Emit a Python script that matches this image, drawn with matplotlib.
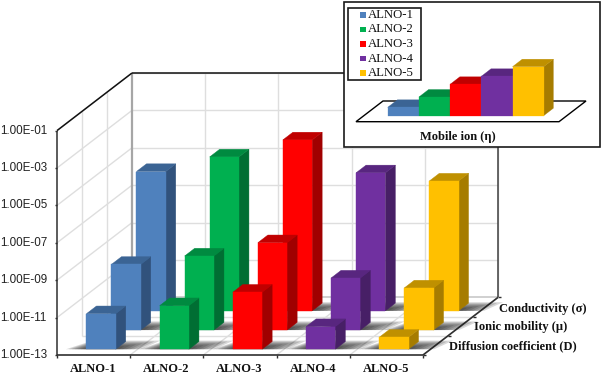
import matplotlib
matplotlib.use('Agg')
import matplotlib.pyplot as plt
from matplotlib.patches import Polygon, Rectangle

samples = ['ALNO-1', 'ALNO-2', 'ALNO-3', 'ALNO-4', 'ALNO-5']
depth_labels = ['Diffusion coefficient (D)', 'Ionic mobility (\u00b5)', 'Conductivity (\u03c3)']
tick_labels = ['1.00E-13', '1.00E-11', '1.00E-09', '1.00E-07', '1.00E-05', '1.00E-03', '1.00E-01']
tick_exps = [-13, -11, -9, -7, -5, -3, -1]

# log10 of each quantity
diffusion = [-11.1, -10.67, -9.95, -11.79, -12.36]
mobility = [-9.49, -9.04, -8.33, -10.22, -10.75]
conductivity = [-5.55, -4.77, -3.86, -5.62, -6.06]
mobile_ion = [8.4, 18.7, 31.4, 39.4, 49.0]

front = ['#4f81bd', '#00b050', '#ff0000', '#7030a0', '#ffc000']
top = ['#3b6494', '#008a40', '#c00000', '#58267f', '#bf9000']
side = ['#31527c', '#006e33', '#a00000', '#471f66', '#a67c00']

fig = plt.figure(figsize=(6.02, 3.75), dpi=100)
ax = fig.add_axes([0, 0, 1, 1])
ax.set_xlim(0, 602)
ax.set_ylim(375, 0)
ax.axis('off')

SERIF = 'Liberation Serif'
SANS = 'Liberation Sans'


def proj(cat, depth, val):
    # oblique projection of (category, depth slot, log10 value) to pixels
    return (57 + 73.2 * cat + 25.0 * depth, 355 - 18.7 * (val + 13) - 19.2 * depth)


def line(a, b, color, lw, z=2):
    ax.plot([a[0], b[0]], [a[1], b[1]], color=color, lw=lw, zorder=z, solid_capstyle='butt')


# grid on the walls and floor
grid = '#dedede'
for e in tick_exps[1:]:
    line(proj(0, 0, e), proj(0, 3, e), grid, 1.0)
    line(proj(0, 3, e), proj(5, 3, e), grid, 1.0)
for c in range(1, 6):
    line(proj(c, 3, -13), proj(c, 3, -1), grid, 1.0)
    line(proj(c, 0, -13), proj(c, 3, -13), grid, 1.0)
for d in [1, 2]:
    line(proj(0, d, -13), proj(0, d, -1), grid, 1.0)
    line(proj(0, d, -13), proj(5, d, -13), grid, 1.0)
line(proj(0, 3, -13), proj(5, 3, -13), '#c8c8c8', 1.2)

# frame
line(proj(0, 3, -13), proj(0, 3, -1), '#a6a6a6', 1.6)
line(proj(0, 0, -1), proj(0, 3, -1), '#111111', 1.1)
line(proj(0, 3, -1), proj(5, 3, -1), '#111111', 1.1)
line(proj(5, 3, -13), proj(5, 3, -1), '#404040', 1.1)
line(proj(0, 0, -13), proj(0, 0, -1), '#404040', 1.2)
line(proj(0, 0, -13), proj(5, 0, -13), '#303030', 1.2)
line(proj(5, 0, -13), proj(5, 3, -13), '#303030', 1.2)

# ticks and tick labels
for e, lab in zip(tick_exps, tick_labels):
    p = proj(0, 0, e)
    line((p[0] - 2.5, p[1]), p, '#303030', 1.0)
    ax.text(p[0] - 10, p[1], lab, family=SANS, fontsize=8.4, color='#222222',
            ha='right', va='center')
for c in range(6):
    p = proj(c, 0, -13)
    line(p, (p[0], p[1] + 2.5), '#303030', 1.0)
for c, lab in enumerate(samples):
    p = proj(c + 0.5, 0, -13)
    ax.text(p[0] - 0.5, 369.5, lab, family=SERIF, fontsize=9, fontweight='bold',
            color='#111111', ha='center', va='center')
for d in range(4):
    p = proj(5, d, -13)
    line(p, (p[0] + 2.5, p[1]), '#303030', 1.0)
label_pos = [(449, 346), (473.5, 327), (499, 309)]
for lab, (x, y) in zip(depth_labels, label_pos):
    ax.text(x, y, lab, family=SERIF, fontsize=9, fontweight='bold',
            color='#111111', ha='left', va='center')


def poly(pts, color, z, alpha=1.0, lw=0.0):
    ax.add_patch(Polygon(pts, closed=True, facecolor=color, edgecolor=color,
                         lw=lw, alpha=alpha, zorder=z))


def bar3d(cat, row, val, i, z):
    c0, c1 = cat + 0.3, cat + 0.7
    d0, d1 = row + 0.3, row + 0.7
    # soft shadow on the floor
    for k in range(7):
        grow = 0.05 * (7 - k)
        poly([proj(c0 - grow * 0.8, d0, -13), proj(c1 + grow, d0, -13),
              proj(c1 + grow * 1.3, d0 + 0.1 + 0.05 * (7 - k), -13),
              proj(c0 - grow * 0.2, d0 + 0.1 + 0.05 * (7 - k), -13)],
             '#1a1a1a', z, alpha=0.17)
    poly([proj(c1, d0, -13), proj(c1, d1, -13), proj(c1, d1, val), proj(c1, d0, val)],
         side[i], z + 0.1, lw=0.3)
    poly([proj(c0, d0, val), proj(c1, d0, val), proj(c1, d1, val), proj(c0, d1, val)],
         top[i], z + 0.2, lw=0.3)
    poly([proj(c0, d0, -13), proj(c1, d0, -13), proj(c1, d0, val), proj(c0, d0, val)],
         front[i], z + 0.3, lw=0.3)


z = 3
for row, series in [(2, conductivity), (1, mobility), (0, diffusion)]:
    for i, val in enumerate(series):
        bar3d(i, row, val, i, z)
        z += 1

# inset with the mobile ion bars
ZI = 100
ax.add_patch(Rectangle((343.5, 2), 256, 144.5, facecolor='white', edgecolor='#1a1a1a',
                       lw=1.2, zorder=ZI))
ax.add_patch(Polygon([(356, 121.7), (559, 121.7), (586, 101), (383, 101)], closed=True,
                     facecolor='white', edgecolor='black', lw=1.0, zorder=ZI + 1))
bar_x = 387.7
bar_w = 31.2
base = 115.7
for i, h in enumerate(mobile_ion):
    x0 = bar_x + i * bar_w
    x1 = x0 + bar_w
    poly([(x1, base), (x1 + 9.7, base - 7.5), (x1 + 9.7, base - h - 7.5), (x1, base - h)],
         side[i], ZI + 2 + i * 0.1, lw=0.2)
    poly([(x0, base - h), (x1, base - h), (x1 + 9.7, base - h - 7.5), (x0 + 9.7, base - h - 7.5)],
         top[i], ZI + 2 + i * 0.1 + 0.01, lw=0.2)
    poly([(x0, base), (x1, base), (x1, base - h), (x0, base - h)],
         front[i], ZI + 2 + i * 0.1 + 0.02, lw=0.2)
ax.text(457.5, 137, 'Mobile ion (\u03b7)', family=SERIF, fontsize=9, fontweight='bold',
        color='#111111', ha='center', va='center', zorder=ZI + 3)

# legend box
ax.add_patch(Rectangle((347.5, 7.5), 73.5, 72.5, facecolor='white', edgecolor='#1a1a1a',
                       lw=1.2, zorder=ZI + 4))
for i, lab in enumerate(samples):
    y = 15 + i * 14.5
    ax.add_patch(Rectangle((360, y - 3), 6, 5.5, facecolor=front[i], edgecolor='none',
                           zorder=ZI + 5))
    ax.text(368, y, lab, family=SERIF, fontsize=9.2, color='#111111', ha='left',
            va='center', zorder=ZI + 5)

plt.savefig('out.png', dpi=100)
plt.close()
